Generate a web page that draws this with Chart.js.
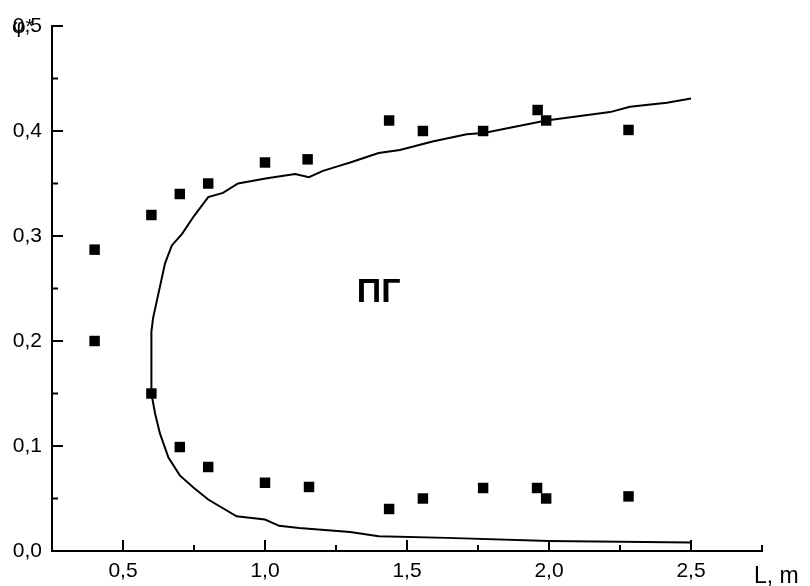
<!DOCTYPE html>
<html>
<head>
<meta charset="utf-8">
<script src="https://cdn.jsdelivr.net/npm/chart.js@4.4.1/dist/chart.umd.min.js"></script>
<style>
  html, body { margin: 0; padding: 0; background: #fff; }
  #wrap { width: 810px; height: 586px; }
</style>
</head>
<body>
<div id="wrap"><canvas id="chart" width="810" height="586"></canvas></div>
<script>
// boundary curve, traced from bottom right round to top right
const curveL = [2.5, 2.0, 1.64, 1.4, 1.3, 1.12, 1.05, 1.0, 0.9, 0.8, 0.75, 0.7, 0.66, 0.63, 0.613, 0.6,
  0.6, 0.606, 0.623, 0.648, 0.672, 0.708, 0.75, 0.8, 0.852, 0.905, 1.007, 1.106, 1.155, 1.204, 1.264,
  1.3, 1.4, 1.475, 1.59, 1.71, 1.77, 1.99, 2.215, 2.285, 2.415, 2.5]
const curveV = [0.008, 0.0095, 0.0125, 0.014, 0.018, 0.022, 0.024, 0.030, 0.033, 0.049, 0.060, 0.072, 0.089, 0.112, 0.131, 0.150,
  0.209, 0.222, 0.243, 0.274, 0.291, 0.302, 0.319, 0.337, 0.341, 0.350, 0.355, 0.359, 0.356, 0.362, 0.367,
  0.370, 0.379, 0.382, 0.390, 0.397, 0.398, 0.410, 0.418, 0.423, 0.427, 0.431]

// measured points
const upperL = [0.4, 0.6, 0.7, 0.8, 1.0, 1.15, 1.437, 1.556, 1.768, 1.96, 1.99, 2.28]
const upperV = [0.287, 0.32, 0.34, 0.35, 0.37, 0.373, 0.41, 0.40, 0.40, 0.42, 0.41, 0.401]
const lowerL = [0.4, 0.6, 0.7, 0.8, 1.0, 1.155, 1.437, 1.556, 1.768, 1.958, 1.99, 2.28]
const lowerV = [0.2, 0.15, 0.099, 0.08, 0.065, 0.061, 0.04, 0.05, 0.06, 0.06, 0.05, 0.052]

const xMin = 0.25, xMax = 2.75, xStep = 0.25
const yMin = 0, yMax = 0.5, yStep = 0.05

const FONT = 'Liberation Sans, Arial, sans-serif'

const toPts = (xs, ys) => xs.map((x, i) => ({ x: x, y: ys[i] }))

const isMajor = (v, every) => Math.abs(v / every - Math.round(v / every)) < 1e-6
const fmt = v => v.toFixed(1).replace('.', ',')

// inward ticks, long on labelled values, plus free text
const extras = {
  id: 'extras',
  afterDraw(chart) {
    const ctx = chart.ctx
    const xs = chart.scales.x
    const ys = chart.scales.y
    const area = chart.chartArea
    ctx.save()
    ctx.strokeStyle = '#000'
    ctx.lineWidth = 2
    ctx.beginPath()
    xs.ticks.forEach(t => {
      const px = xs.getPixelForValue(t.value)
      const len = isMajor(t.value, 0.5) ? 11 : 6
      ctx.moveTo(px, area.bottom)
      ctx.lineTo(px, area.bottom - len)
    })
    ys.ticks.forEach(t => {
      const py = ys.getPixelForValue(t.value)
      const len = isMajor(t.value, 0.1) ? 11 : 6
      ctx.moveTo(area.left, py)
      ctx.lineTo(area.left + len, py)
    })
    ctx.stroke()

    ctx.fillStyle = '#000'
    ctx.textBaseline = 'alphabetic'
    ctx.textAlign = 'left'
    ctx.font = '23px ' + FONT
    ctx.fillText('L, m', area.right - 8, area.bottom + 32)
    ctx.font = '21px ' + FONT
    ctx.fillText('φ*', 12, 33)

    ctx.font = 'bold 34px ' + FONT
    ctx.textAlign = 'center'
    ctx.fillText('ПГ', xs.getPixelForValue(1.4), ys.getPixelForValue(0.237))
    ctx.restore()
  }
}

new Chart(document.getElementById('chart'), {
  type: 'scatter',
  data: {
    datasets: [
      {
        data: toPts(curveL, curveV),
        showLine: true,
        borderColor: '#000',
        borderWidth: 2,
        pointRadius: 0,
        tension: 0,
        fill: false
      },
      {
        data: toPts(upperL, upperV),
        pointStyle: 'rect',
        pointRadius: 7.4,
        backgroundColor: '#000',
        borderColor: '#000',
        borderWidth: 0
      },
      {
        data: toPts(lowerL, lowerV),
        pointStyle: 'rect',
        pointRadius: 7.4,
        backgroundColor: '#000',
        borderColor: '#000',
        borderWidth: 0
      }
    ]
  },
  options: {
    responsive: false,
    animation: false,
    layout: { padding: { top: 26, right: 48, left: 0, bottom: 0 } },
    plugins: {
      legend: { display: false },
      tooltip: { enabled: false }
    },
    scales: {
      x: {
        type: 'linear',
        min: xMin,
        max: xMax,
        afterFit: s => { s.height = 35 },
        afterBuildTicks: s => {
          const t = []
          for (let v = xMin; v <= xMax + 1e-9; v += xStep) t.push({ value: +v.toFixed(4) })
          s.ticks = t
        },
        ticks: {
          color: '#000',
          font: { family: FONT, size: 21 },
          padding: 8,
          maxRotation: 0,
          autoSkip: false,
          callback: v => isMajor(v, 0.5) ? fmt(v) : ''
        },
        grid: { display: false, drawTicks: false },
        border: { display: true, color: '#000', width: 2 }
      },
      y: {
        type: 'linear',
        min: yMin,
        max: yMax,
        afterFit: s => { s.width = 52 },
        afterBuildTicks: s => {
          const t = []
          for (let v = yMin; v <= yMax + 1e-9; v += yStep) t.push({ value: +v.toFixed(4) })
          s.ticks = t
        },
        ticks: {
          color: '#000',
          font: { family: FONT, size: 21 },
          padding: 10,
          autoSkip: false,
          callback: v => isMajor(v, 0.1) ? fmt(v) : ''
        },
        grid: { display: false, drawTicks: false },
        border: { display: true, color: '#000', width: 2 }
      }
    }
  },
  plugins: [extras]
})
</script>
</body>
</html>
